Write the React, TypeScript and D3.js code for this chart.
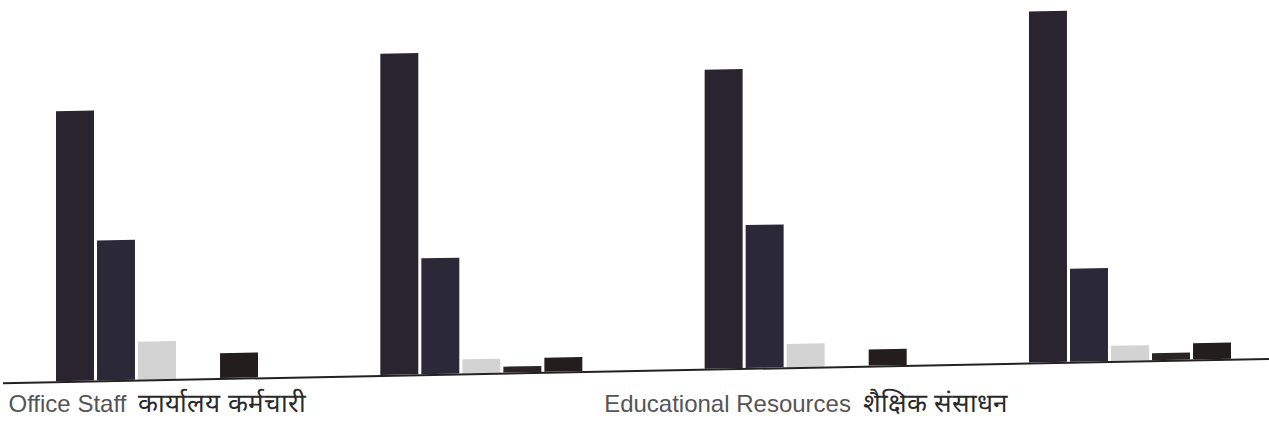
import React from "react";
import * as d3 from "d3";

// ---- data (no axis values printed, scale 0–100) ----
const categories = ["group1", "group2", "group3", "group4"];
const tickLabelsEn = ["Office Staff", "", "Educational Resources", ""];
const tickLabelsHi = ["कार्यालय कर्मचारी", "", "शैक्षिक संसाधन", ""];
const seriesKeys = ["series1", "series2", "series3", "series4", "series5"];
const series1 = [76.9, 91.5, 85.2, 100];
const series2 = [39.9, 33.0, 40.7, 26.5];
const series3 = [10.8, 4.0, 6.6, 4.3];
const series4 = [0, 1.7, 0, 2.0];
const series5 = [7.1, 4.0, 4.6, 4.6];
const seriesValues = [series1, series2, series3, series4, series5];
const seriesColors = ["#29242f", "#2b2838", "#d3d3d3", "#2a2424", "#231d1d"];

const W = 1269;
const H = 428;
const baseY = 370;
const topY = 19;
const tilt = -1.1;

export default function App() {
  const x0 = d3
    .scaleBand<string>()
    .domain(categories)
    .range([56, 1231])
    .paddingInner(0.3771)
    .paddingOuter(0);
  const x1 = d3
    .scaleBand<string>()
    .domain(seriesKeys)
    .range([0, x0.bandwidth()])
    .paddingInner(0.074)
    .paddingOuter(0);
  const y = d3.scaleLinear().domain([0, 100]).range([baseY, topY]);

  return (
    <svg
      width={W}
      height={H}
      style={{ position: "absolute", left: 0, top: 0, background: "#fff" }}
    >
      <g transform={`translate(640,${baseY}) skewY(${tilt}) translate(-640,${-baseY})`}>
        {categories.map((c, gi) => (
          <g key={c} transform={`translate(${x0(c)},0)`}>
            {seriesKeys.map((s, si) => {
              const v = seriesValues[si][gi];
              if (!v) return null;
              return (
                <rect
                  key={s}
                  x={x1(s)}
                  y={y(v)}
                  width={x1.bandwidth()}
                  height={y(0) - y(v)}
                  fill={seriesColors[si]}
                />
              );
            })}
          </g>
        ))}
        <line x1={3} x2={W + 20} y1={y(0) + 1} y2={y(0) + 1} stroke="#222" strokeWidth={2} />
      </g>
      {categories.map((c, gi) =>
        tickLabelsEn[gi] ? (
          <text
            key={c}
            x={(x0(c) as number) + x0.bandwidth() / 2}
            y={412}
            textAnchor="middle"
            fontFamily="'Liberation Sans', Arial, sans-serif"
            fontSize={24}
            fill="#3a3a3a"
          >
            <tspan fill="#555">{tickLabelsEn[gi]}</tspan>
            <tspan dx={12} fontSize={26} fill="#2a2a2a">
              {tickLabelsHi[gi]}
            </tspan>
          </text>
        ) : null
      )}
    </svg>
  );
}
